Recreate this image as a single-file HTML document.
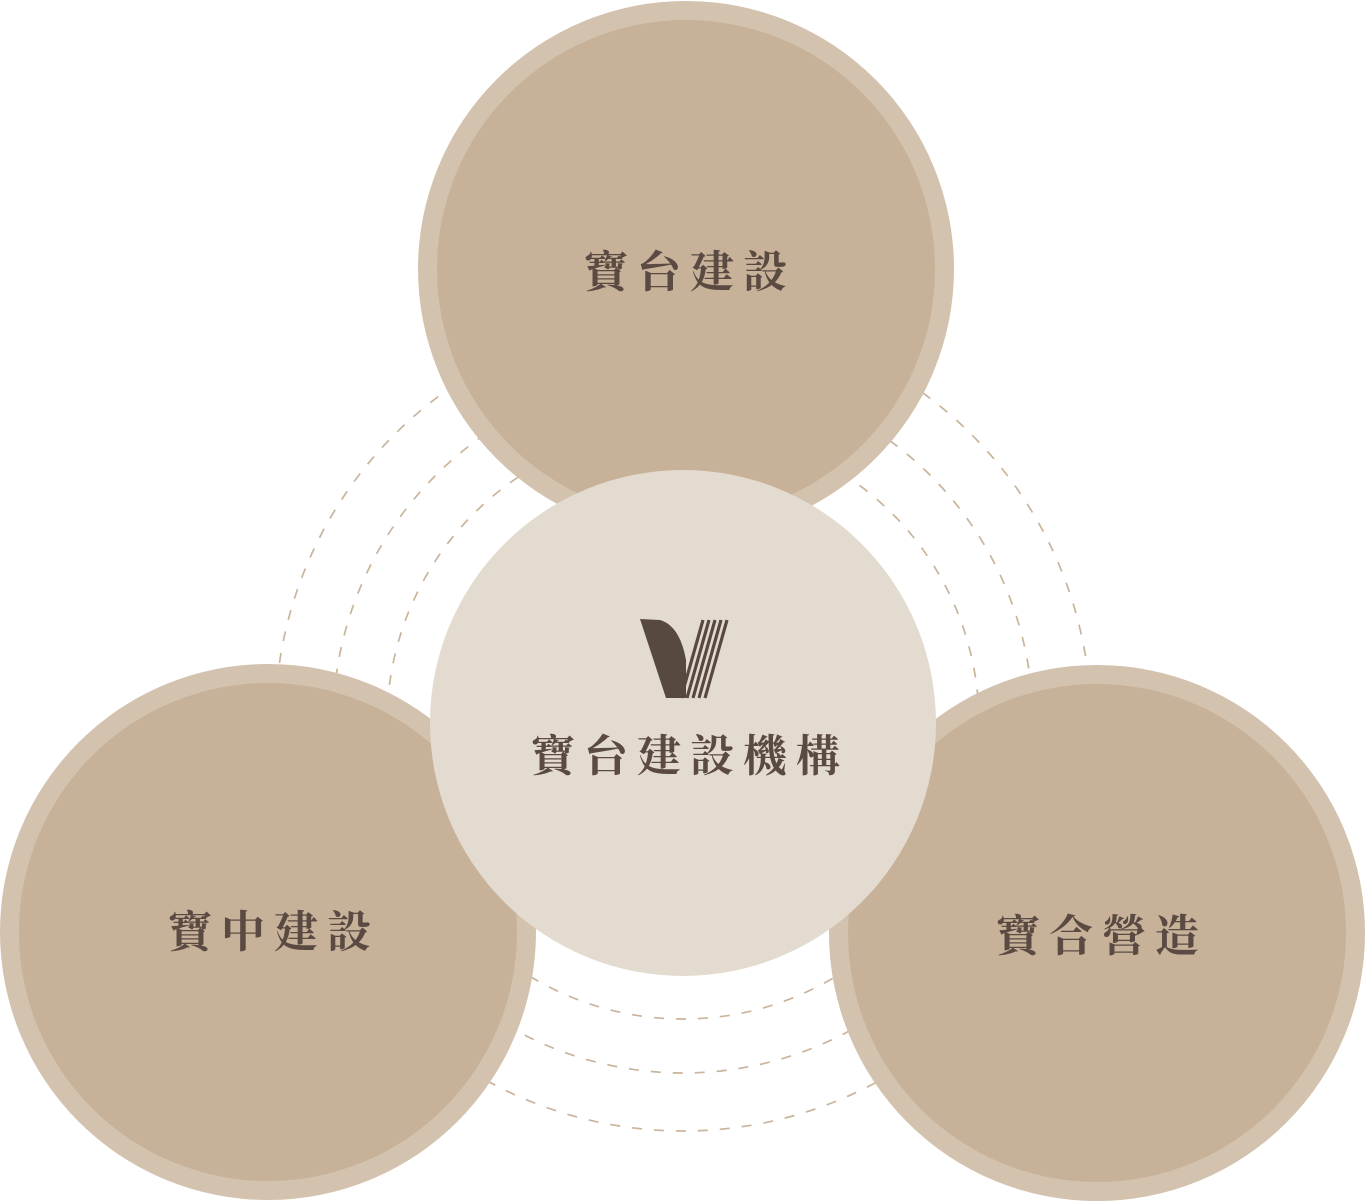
<!DOCTYPE html>
<html><head><meta charset="utf-8"><style>
html,body{margin:0;padding:0;background:#fff;}
svg{display:block}
text{font-family:"Liberation Serif","Noto Serif CJK SC","Noto Sans CJK TC",serif;fill:#5a4a42;font-weight:bold;text-anchor:middle}
</style></head><body>
<svg width="1366" height="1202" viewBox="0 0 1366 1202" xmlns="http://www.w3.org/2000/svg">
<g fill="none" stroke="#c9b49c" stroke-width="1.7" stroke-dasharray="10 12">
<circle cx="683" cy="723" r="296"/>
<circle cx="683" cy="723" r="350"/>
<circle cx="683" cy="723" r="408"/>
</g>
<circle cx="686" cy="269" r="268" fill="#d2c2ae"/>
<circle cx="686" cy="269" r="249" fill="#c7b199"/>
<circle cx="268" cy="932" r="268" fill="#d2c2ae"/>
<circle cx="268" cy="932" r="249" fill="#c7b199"/>
<circle cx="1097" cy="933" r="268" fill="#d2c2ae"/>
<circle cx="1097" cy="933" r="249" fill="#c7b199"/>
<circle cx="683" cy="723" r="253" fill="#e4dbd0"/>
<g fill="#574840">
<path d="M640 619 L660 620 Q680 626 686 660 L686 698 L666 698 Z"/>
</g>
<g stroke="#574840" stroke-width="3.2" stroke-linecap="butt">
<line x1="703" y1="620" x2="681" y2="698"/>
<line x1="709" y1="620" x2="687" y2="698"/>
<line x1="715" y1="620" x2="693" y2="698"/>
<line x1="721" y1="620" x2="699" y2="698"/>
<line x1="727" y1="620" x2="705" y2="698"/>
</g>
<text x="690" y="287" font-size="44" letter-spacing="9">寶台建設</text>
<text x="690" y="771" font-size="44" letter-spacing="9">寶台建設機構</text>
<text x="274" y="947" font-size="44" letter-spacing="9">寶中建設</text>
<text x="1102" y="951" font-size="44" letter-spacing="9">寶合營造</text>
</svg>
</body></html>
